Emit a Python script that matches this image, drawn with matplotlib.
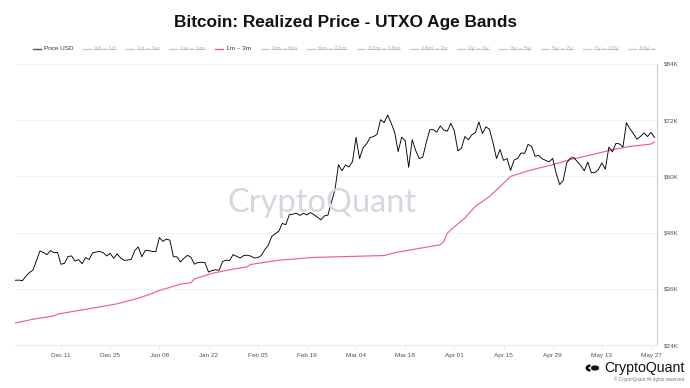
import numpy as np
import pandas as pd
import matplotlib
matplotlib.use("Agg")
import matplotlib.pyplot as plt
import matplotlib.dates as mdates
from matplotlib.lines import Line2D
from matplotlib.patches import Circle, Wedge

plt.rcParams['font.family'] = ['Liberation Sans', 'DejaVu Sans']

# Price USD, daily close (thousand USD), 2023-11-28 .. 2024-05-28
price_nov = [37.82, 37.86, 37.72]
price_dec = [38.69, 39.47, 39.98, 41.98, 44.08, 43.75, 43.29, 44.17, 43.72, 43.79,
             41.24, 41.45, 42.89, 43.02, 41.93, 42.24, 41.36, 42.66, 42.26, 43.66,
             43.86, 43.97, 43.73, 43.01, 43.58, 42.52, 43.44, 42.58, 42.07, 42.14, 42.28]
price_jan = [44.18, 44.94, 42.85, 44.18, 44.16, 43.97, 43.93, 46.97, 46.12, 46.63,
             46.37, 42.85, 42.84, 41.73, 42.51, 43.15, 42.74, 41.26, 41.62, 41.66,
             41.58, 39.57, 39.90, 40.08, 39.94, 41.82, 42.12, 42.04, 43.30, 42.95, 42.58]
price_feb = [43.08, 43.19, 42.99, 42.58, 42.66, 43.09, 44.33, 45.30, 47.15, 47.77,
             48.29, 49.96, 49.70, 51.80, 51.94, 52.16, 51.66, 52.12, 51.78, 52.28,
             51.84, 51.30, 50.73, 51.57, 51.73, 54.52, 57.09, 62.50, 61.20]
price_mar = [62.44, 62.03, 63.17, 68.33, 63.80, 66.11, 66.93, 68.30, 68.50, 69.02,
             72.12, 71.48, 73.10, 71.40, 69.40, 65.30, 68.39, 67.61, 61.93, 67.84,
             65.50, 63.80, 64.10, 67.24, 69.96, 69.99, 69.45, 70.78, 69.89, 69.65, 71.33]
price_apr = [69.70, 65.45, 65.98, 68.51, 67.84, 68.90, 69.36, 71.62, 69.15, 70.59,
             70.06, 67.19, 63.82, 65.74, 63.43, 63.81, 61.28, 63.51, 63.84, 64.99,
             64.93, 66.84, 66.41, 64.30, 64.48, 63.76, 63.42, 63.11, 63.84, 60.64]
price_may = [58.25, 59.12, 62.89, 63.89, 64.03, 63.16, 62.33, 61.19, 63.05, 60.79,
             60.80, 61.46, 62.88, 61.55, 66.27, 65.23, 67.05, 66.94, 66.27, 71.45,
             70.14, 69.12, 67.93, 68.53, 69.29, 68.51, 69.40, 68.30]

# Realized price 1m ~ 3m (thousand USD)
rp_dates = ["2023-11-28", "2023-12-03", "2023-12-09", "2023-12-10", "2023-12-21",
            "2023-12-27", "2024-01-02", "2024-01-06", "2024-01-07", "2024-01-14",
            "2024-01-17", "2024-01-18", "2024-01-23", "2024-01-29", "2024-02-02",
            "2024-02-03", "2024-02-11", "2024-02-21", "2024-03-02", "2024-03-12",
            "2024-03-15", "2024-03-21", "2024-03-28", "2024-03-29", "2024-03-30",
            "2024-03-31", "2024-04-04", "2024-04-07", "2024-04-11", "2024-04-14",
            "2024-04-17", "2024-04-23", "2024-04-29", "2024-05-04", "2024-05-10",
            "2024-05-16", "2024-05-21", "2024-05-27", "2024-05-28"]
rp_1m_3m = [28.7, 29.5, 30.2, 30.6, 32.0, 32.8, 34.0, 35.0, 35.4, 37.0,
            37.3, 38.1, 39.3, 40.2, 40.7, 41.2, 42.1, 42.7, 42.9, 43.1,
            43.7, 44.5, 45.4, 46.1, 47.9, 48.6, 51.1, 53.6, 55.7, 57.8,
            60.0, 61.4, 62.5, 63.6, 64.6, 65.7, 66.4, 66.9, 67.4]

y_ticks = [24, 36, 48, 60, 72, 84]
legend_labels = ["Price USD", "0d ~ 1d", "1d ~ 1w", "1w ~ 1m", "1m ~ 3m", "3m ~ 6m",
                 "6m ~ 12m", "12m ~ 18m", "18m ~ 2y", "2y ~ 3y", "3y ~ 5y", "5y ~ 7y",
                 "7y ~ 10y", "10y ~"]
visible = {"Price USD": "#555555", "1m ~ 3m": "#ea5f9a"}

price = np.array(price_nov + price_dec + price_jan + price_feb + price_mar + price_apr + price_may) * 1000
price_dates = pd.date_range("2023-11-28", periods=len(price), freq="D")
rp_d = pd.to_datetime(rp_dates)
rp_v = np.array(rp_1m_3m) * 1000

W, H = 690, 388
fig = plt.figure(figsize=(W / 100, H / 100), dpi=100)
ax = fig.add_axes([15 / W, 1 - 345 / H, (657 - 15) / W, (345 - 64) / H])

ax.plot(price_dates, price, color="#000000", lw=0.65, zorder=3)
ax.plot(rp_d, rp_v, color="#ea5f9a", lw=0.85, zorder=2)

ref = pd.Timestamp("2023-12-11")
ax.set_xlim(ref - pd.Timedelta(days=13.1), ref + pd.Timedelta(days=169.7))
ax.set_ylim(24000, 84000)

ax.set_yticks([v * 1000 for v in y_ticks])
ax.set_yticklabels([f"${v}K" for v in y_ticks])
ax.yaxis.tick_right()
ax.tick_params(axis="y", length=0, pad=5, labelsize=4.6, labelcolor="#555555")
ax.grid(axis="y", color="#f0f0f0", lw=0.6)
ax.set_axisbelow(True)

xt = pd.date_range("2023-12-11", "2024-05-27", freq="14D")
ax.set_xticks(xt)
ax.xaxis.set_major_formatter(mdates.DateFormatter("%b %d"))
ax.tick_params(axis="x", length=3, width=0.5, color="#dddddd", pad=3,
               labelsize=4.6, labelcolor="#555555")

for s in ["top", "left"]:
    ax.spines[s].set_visible(False)
ax.spines["bottom"].set_color("#e6e6e6")
ax.spines["bottom"].set_linewidth(0.6)
ax.spines["right"].set_color("#cccccc")
ax.spines["right"].set_linewidth(0.8)

# title
fig.text(0.5, 1 - 22 / H, "Bitcoin: Realized Price - UTXO Age Bands", ha="center", va="center",
         fontsize=12.4, fontweight="bold", color="#111111")

# watermark
fig.text(322 / W, 1 - 203 / H, "CryptoQuant", ha="center", va="center", fontsize=23.5,
         family=["Lato", "DejaVu Sans"], color="#d6d6e0", zorder=0)

# legend row
renderer = fig.canvas.get_renderer()
sym, gap1, gap2 = 8, 3, 10
lfs = 4.6
items = []
for lab in legend_labels:
    t = fig.text(0, 0, lab, fontsize=lfs, va="center")
    w = t.get_window_extent(renderer).width
    t.remove()
    items.append((lab, w))
total = sum(sym + gap1 + w for _, w in items) + gap2 * (len(items) - 1)
x = 344 - total / 2
ly = 1 - 48.5 / H
for lab, w in items:
    on = lab in visible
    scol = visible.get(lab, "#cccccc")
    tcol = "#333333" if on else "#b0b0b0"
    fig.add_artist(Line2D([x / W, (x + sym) / W], [ly, ly], color=scol, lw=1.0))
    tx = x + sym + gap1
    fig.text(tx / W, ly, lab, fontsize=lfs, va="center", ha="left", color=tcol)
    if not on:
        fig.add_artist(Line2D([tx / W, (tx + w) / W], [ly, ly], color="#b0b0b0", lw=0.5))
    x = tx + w + gap2

# bottom-right logo
fig.text(685 / W, 1 - 368 / H, "CryptoQuant", ha="right", va="center", fontsize=10.2,
         color="#111111")
fig.add_artist(Circle((595 / W, 1 - 368 / H), 3.4 / W, transform=fig.transFigure,
                      color="#111111"))
fig.add_artist(Wedge((592 / W, 1 - 368 / H), 5.8 / W, 115, 245, width=1.7 / W,
                     transform=fig.transFigure, color="#111111"))
fig.text(685 / W, 1 - 379 / H, "\u00a9 CryptoQuant All rights reserved.", ha="right",
         va="center", fontsize=3.3, color="#777777")

fig.savefig("out.png", dpi=100)
